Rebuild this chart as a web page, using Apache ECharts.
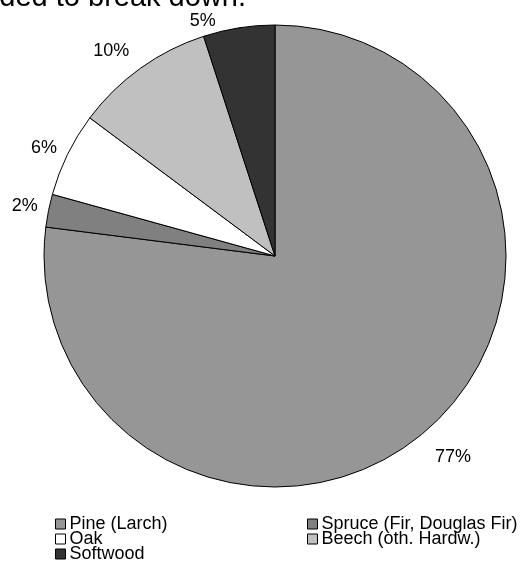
<!DOCTYPE html>
<html>
<head>
<meta charset="utf-8">
<style>
html,body{margin:0;padding:0;background:#fff;}
#chart{width:526px;height:565px;}
</style>
<script src="https://cdn.jsdelivr.net/npm/echarts@6/dist/echarts.min.js"></script>
</head>
<body>
<div id="chart"></div>
<script>
var titleText = 'ded to break down.';
var categories = ['Pine (Larch)', 'Spruce (Fir, Douglas Fir)', 'Oak', 'Beech (oth. Hardw.)', 'Softwood'];
var values = [77.0, 2.3, 5.9, 9.8, 5.0];
var colors = ['#969696', '#808080', '#ffffff', '#c0c0c0', '#333333'];
var legendCol1 = ['Pine (Larch)', 'Oak', 'Softwood'];
var legendCol2 = ['Spruce (Fir, Douglas Fir)', 'Beech (oth. Hardw.)'];
// small per-label nudges (style only) to mimic the original label placement
var labelNudge = [[-5, 17], [6, -2], [5, 0], [0, -6], [-18, 7]];

var FONT = 'Liberation Sans, Arial, sans-serif';
var chart = echarts.init(document.getElementById('chart'), null, {renderer: 'canvas'});

var data = categories.map(function (c, i) {
  return {name: c, value: values[i], itemStyle: {color: colors[i]}};
});

function legend(names, left) {
  return {
    data: names,
    orient: 'vertical',
    left: left,
    top: 515,
    itemWidth: 10,
    itemHeight: 10,
    itemGap: -3,
    icon: 'rect',
    padding: 0,
    selectedMode: false,
    itemStyle: {borderColor: '#000', borderWidth: 1},
    textStyle: {fontFamily: FONT, fontSize: 18, color: '#000', padding: [0, 0, 0, -1]}
  };
}

chart.setOption({
  animation: false,
  backgroundColor: '#fff',
  graphic: [{
    type: 'text',
    x: 246,
    y: -17,
    style: {text: titleText, font: '29px ' + FONT, fill: '#000', align: 'right', verticalAlign: 'top'}
  }],
  legend: [legend(legendCol1, 55), legend(legendCol2, 307)],
  series: [{
    type: 'pie',
    center: [275, 256],
    radius: 231,
    startAngle: 90,
    clockwise: true,
    bleedMargin: 0,
    data: data,
    itemStyle: {borderColor: '#000', borderWidth: 1},
    label: {
      show: true,
      position: 'outside',
      fontFamily: FONT,
      fontSize: 18,
      color: '#000',
      width: 45,
      overflow: 'none',
      distanceToLabelLine: 3,
      formatter: function (p) { return Math.round(p.percent) + '%'; }
    },
    labelLine: {show: false, length: 14, length2: 0},
    labelLayout: function (p) {
      var n = labelNudge[p.dataIndex];
      return {dx: n[0], dy: n[1]};
    },
    emphasis: {disabled: true}
  }]
});
</script>
</body>
</html>
